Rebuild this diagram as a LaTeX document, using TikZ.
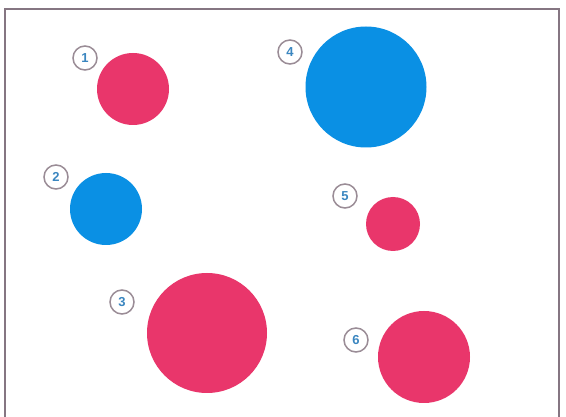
\documentclass[tikz,border=0pt]{standalone}
\usepackage{fontspec}
\setmainfont{Liberation Sans}
\begin{document}
\begin{tikzpicture}[x=1pt,y=-1pt,
  pinkdot/.style={circle,fill=dotpink,draw=none,inner sep=0pt},
  bluedot/.style={circle,fill=dotblue,draw=none,inner sep=0pt},
  numlabel/.style={circle,draw=labgray,line width=1.5pt,fill=white,minimum size=24pt,inner sep=0pt,font=\bfseries\fontsize{13}{13}\selectfont,text=numblue}]
\definecolor{dotpink}{HTML}{E9366B}
\definecolor{dotblue}{HTML}{0A90E4}
\definecolor{labgray}{HTML}{9A8C96}
\definecolor{numblue}{HTML}{3A86C0}
\definecolor{framecol}{HTML}{857682}
\useasboundingbox (0,0) rectangle (566,417);
\clip (0,0) rectangle (566,417);
\fill[white] (0,0) rectangle (566,417);
\draw[framecol,line width=2pt] (5,430) -- (5,9) -- (559,9) -- (559,430);
\node[pinkdot,minimum size=72pt] (c1) at (133,89) {};
\node[bluedot,minimum size=121pt] (c4) at (366,87) {};
\node[bluedot,minimum size=72pt] (c2) at (106,209) {};
\node[pinkdot,minimum size=54pt] (c5) at (393,224) {};
\node[pinkdot,minimum size=120pt] (c3) at (207,333) {};
\node[pinkdot,minimum size=92pt] (c6) at (424,357) {};
\node[numlabel] (n1) at (85,58) {1};
\node[numlabel] (n2) at (56,177) {2};
\node[numlabel] (n3) at (122,302) {3};
\node[numlabel] (n4) at (290,52) {4};
\node[numlabel] (n5) at (345,196) {5};
\node[numlabel] (n6) at (356,340) {6};
\end{tikzpicture}
\end{document}
